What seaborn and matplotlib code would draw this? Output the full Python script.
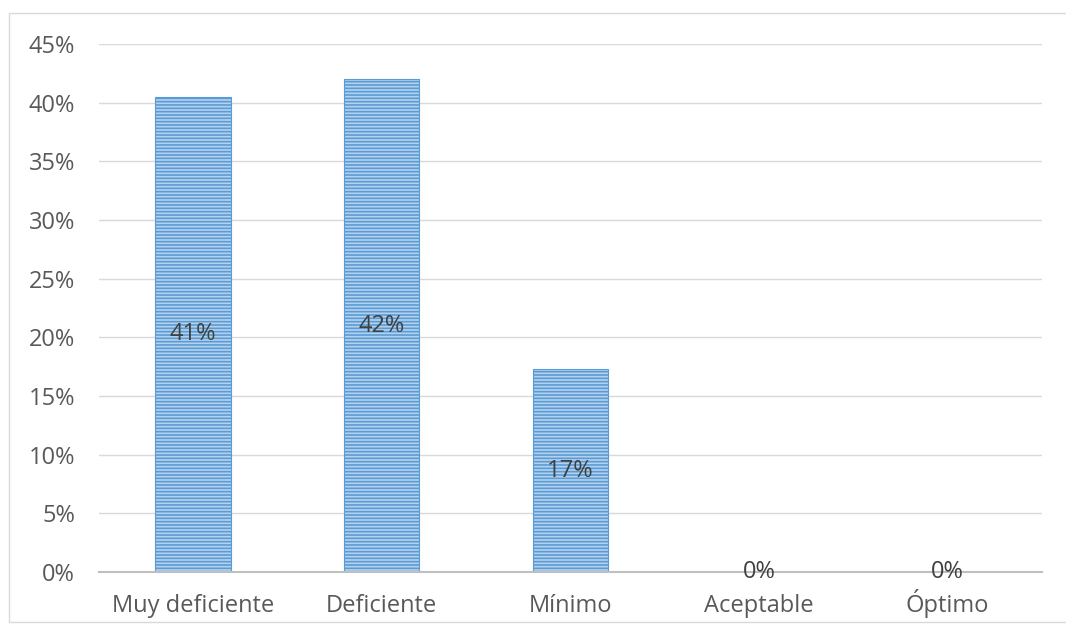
import matplotlib
matplotlib.use("Agg")
import matplotlib.pyplot as plt
import seaborn as sns
import pandas as pd
from matplotlib.patches import Rectangle
from matplotlib.ticker import FuncFormatter

categories = ["Muy deficiente", "Deficiente", "Mínimo", "Aceptable", "Óptimo"]
values = [0.405, 0.42, 0.173, 0.0, 0.0]
labels = ["41%", "42%", "17%", "0%", "0%"]

sns.set_theme(style="white")
plt.rcParams['font.family'] = ['Open Sans', 'DejaVu Sans']
plt.rcParams['hatch.linewidth'] = 1.2

df = pd.DataFrame({"cat": categories, "val": values})

fig = plt.figure(figsize=(10.66, 6.28), dpi=100)
ax = fig.add_axes([0.0925, 0.089, 0.885, 0.841])
sns.barplot(data=df, x="cat", y="val", color="#B4D2EE", width=0.4, ax=ax,
            saturation=1)
for p in ax.patches:
    p.set_hatch("-----")
    p.set_edgecolor("#5B9BD5")
    p.set_linewidth(0.8)

ax.set_ylim(0, 0.45)
ax.set_yticks([i * 0.05 for i in range(10)])
ax.yaxis.set_major_formatter(FuncFormatter(lambda v, _: f"{round(v*100)}%"))
ax.grid(axis="y", color="#D9D9D9", linewidth=1)
ax.set_axisbelow(True)
for s in ["top", "right", "left"]:
    ax.spines[s].set_visible(False)
ax.spines["bottom"].set_color("#BFBFBF")
ax.spines["bottom"].set_linewidth(1.5)
ax.tick_params(axis="both", length=0, labelsize=17, colors="#595959")
ax.tick_params(axis="x", pad=29)
ax.tick_params(axis="y", pad=17)
for t in ax.get_xticklabels():
    t.set_va("baseline")
ax.set_xlabel("")
ax.set_ylabel("")

for i, (v, lab) in enumerate(zip(values, labels)):
    ax.text(i, v / 2, lab, ha="center", va="center", fontsize=17, color="#404040")

fig.patches.append(Rectangle((0.008, 0.01), 1.2, 0.97, transform=fig.transFigure,
                             fill=False, edgecolor="#D9D9D9", linewidth=1))

fig.savefig("out.png", dpi=100)
